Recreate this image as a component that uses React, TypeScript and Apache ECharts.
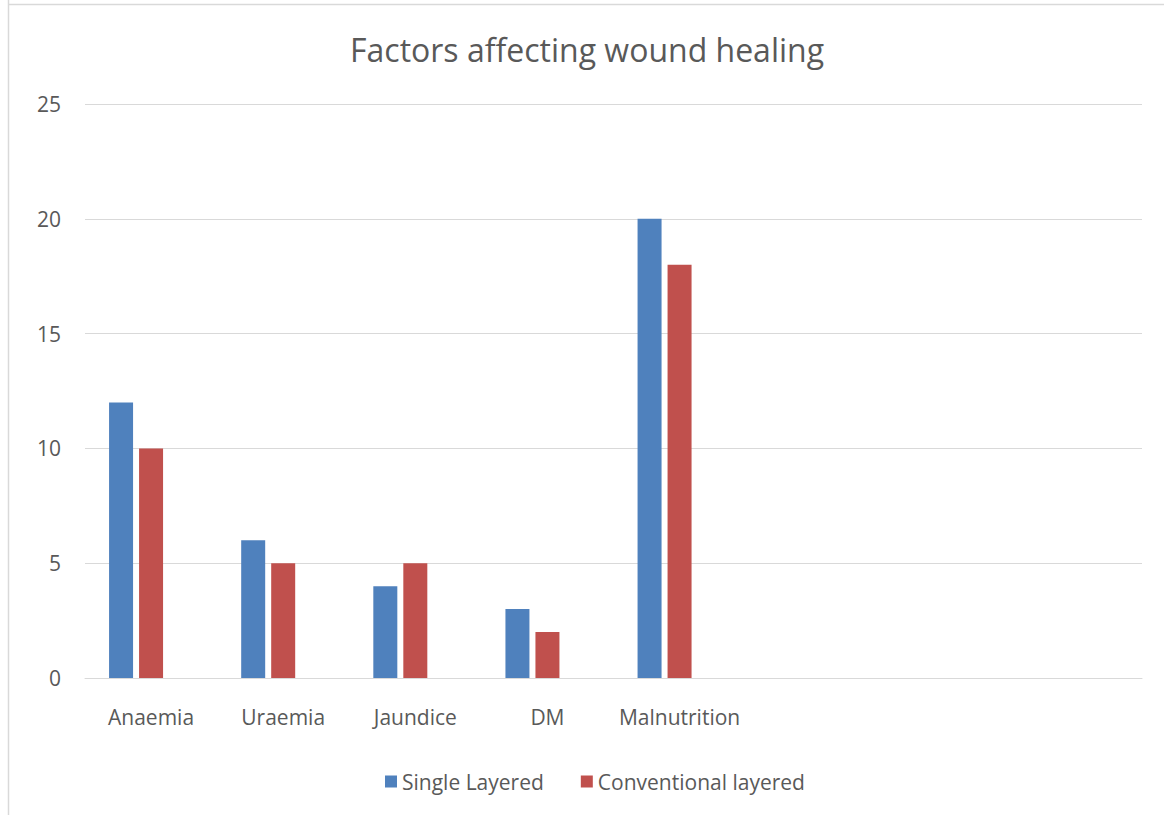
import React, { useEffect, useRef } from "react";
import * as echarts from "echarts";

const categories = ["Anaemia", "Uraemia", "Jaundice", "DM", "Malnutrition", "", "", ""];
const singleLayered = [12, 6, 4, 3, 20, null, null, null];
const conventionalLayered = [10, 5, 5, 2, 18, null, null, null];
const emptySeries = [null, null, null, null, null, null, null, null];
const yTicks = { min: 0, max: 25, interval: 5 };

const FONT = "'Open Sans', 'Noto Sans', sans-serif";
const TXT = "#595959";

export default function App() {
  const ref = useRef<HTMLDivElement>(null);
  useEffect(() => {
    const chart = echarts.init(ref.current!, null, { renderer: "svg" });
    chart.setOption({
      animation: false,
      backgroundColor: "#ffffff",
      title: {
        text: "Factors affecting wound healing",
        left: 345,
        top: 28,
        textStyle: { fontFamily: FONT, fontSize: 32, fontWeight: "normal", color: TXT },
      },
      legend: {
        data: ["Single Layered", "Conventional layered"],
        top: 766,
        left: 380,
        icon: "rect",
        itemWidth: 12,
        itemHeight: 12,
        itemGap: 37,
        textStyle: { fontFamily: FONT, fontSize: 21, color: TXT },
      },
      grid: { left: 85, right: 22, top: 104, bottom: 137 },
      xAxis: {
        type: "category",
        data: categories,
        axisLine: { lineStyle: { color: "#d9d9d9" } },
        axisTick: { show: false },
        axisLabel: { fontFamily: FONT, fontSize: 21, color: TXT, margin: 28, interval: 0 },
      },
      yAxis: {
        type: "value",
        min: yTicks.min,
        max: yTicks.max,
        interval: yTicks.interval,
        axisLine: { show: false },
        axisTick: { show: false },
        axisLabel: { fontFamily: FONT, fontSize: 21, color: TXT, margin: 24 },
        splitLine: { lineStyle: { color: "#d9d9d9" } },
      },
      series: [
        { name: "Single Layered", type: "bar", data: singleLayered, barWidth: 24, barGap: "25%", itemStyle: { color: "#4F81BD" } },
        { name: "Conventional layered", type: "bar", data: conventionalLayered, barWidth: 24, barGap: "25%", itemStyle: { color: "#C0504D" } },
        { name: "Series 3", type: "bar", data: emptySeries, barWidth: 24, barGap: "25%", itemStyle: { color: "#9BBB59" } },
      ],
      graphic: [
        {
          type: "line",
          shape: { x1: 8.5, y1: 0, x2: 8.5, y2: 815 },
          style: { stroke: "#d9d9d9", lineWidth: 1.5 },
          silent: true,
        },
        {
          type: "line",
          shape: { x1: 8, y1: 4.5, x2: 1164, y2: 4.5 },
          style: { stroke: "#d9d9d9", lineWidth: 1.5 },
          silent: true,
        },
      ],
    });
    return () => chart.dispose();
  }, []);
  return <div ref={ref} style={{ position: "absolute", left: 0, top: 0, width: 1164, height: 815 }} />;
}
